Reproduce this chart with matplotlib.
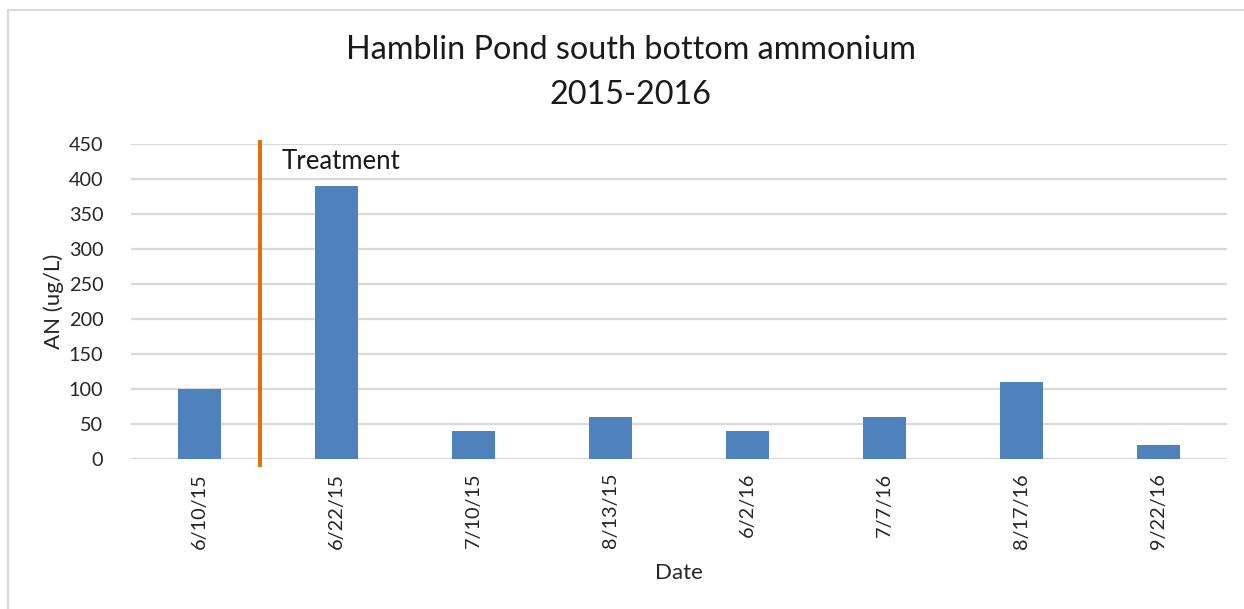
import matplotlib
matplotlib.use("Agg")
import matplotlib.pyplot as plt
from matplotlib.lines import Line2D

plt.rcParams['font.family'] = ['Lato', 'DejaVu Sans']

dates = ["6/10/15", "6/22/15", "7/10/15", "8/13/15", "6/2/16", "7/7/16", "8/17/16", "9/22/16"]
ammonium = [100, 390, 40, 60, 40, 60, 110, 20]
yticks = [0, 50, 100, 150, 200, 250, 300, 350, 400, 450]
treatment_x = 0.445  # between the first two sampling dates

W, H = 1244, 609
fig = plt.figure(figsize=(W / 100, H / 100), dpi=100)

ax = fig.add_axes([131 / W, 1 - 459 / H, (1227 - 131) / W, (459 - 144) / H])
x = list(range(len(dates)))
ax.bar(x, ammonium, width=0.315, color='#4F81BD', zorder=3)
ax.set_xlim(-0.5, len(dates) - 0.5)
ax.set_ylim(0, 450)
ax.set_yticks(yticks)
ax.set_xticks(x)
ax.set_xticklabels(dates, rotation=90, fontsize=14.3, color='#262626')
ax.tick_params(axis='y', labelsize=14.3, length=0, pad=20, labelcolor='#262626')
ax.tick_params(axis='x', length=0, pad=10)
ax.yaxis.grid(True, color='#D9D9D9', linewidth=1.6, zorder=0)
ax.set_axisbelow(True)
for s in ax.spines.values():
    s.set_visible(False)

fig.text(54 / W, 1 - 301.5 / H, "AN (ug/L)", fontsize=16, color='#262626',
         rotation=90, ha='center', va='center')
ax.set_xlabel("Date", fontsize=16, color='#262626', labelpad=10)

# treatment marker
ax.add_line(Line2D([treatment_x, treatment_x], [453, -9], color='#E46C0A',
                   linewidth=2.8, clip_on=False, zorder=4))
ax.text(0.6, 425, "Treatment", fontsize=18.5, color='#1a1a1a', ha='left', va='center')

fig.text(0.507, 1 - 50 / H, "Hamblin Pond south bottom ammonium", fontsize=23.3,
         ha='center', va='center', color='#1a1a1a')
fig.text(0.507, 1 - 95 / H, "2015-2016", fontsize=23.3, ha='center', va='center', color='#1a1a1a')

# chart frame
fig.add_artist(Line2D([8 / W, 1], [1 - 9.5 / H, 1 - 9.5 / H], color='#D9D9D9', linewidth=1.5,
                      transform=fig.transFigure))
fig.add_artist(Line2D([8 / W, 8 / W], [1 - 9.5 / H, 0], color='#D9D9D9', linewidth=1.5,
                      transform=fig.transFigure))

fig.savefig("out.png", dpi=100, facecolor='white')
